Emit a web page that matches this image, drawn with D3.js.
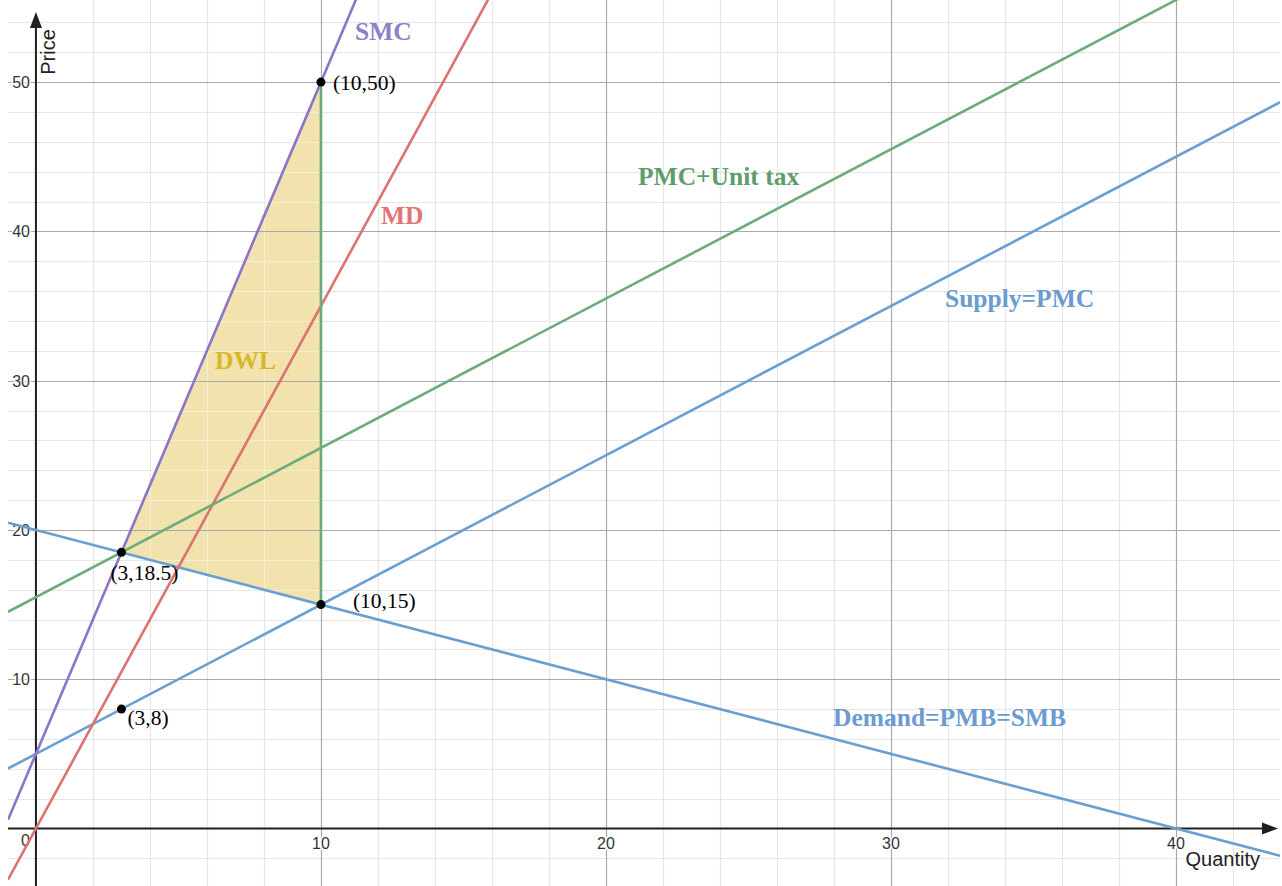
<!DOCTYPE html>
<html><head><meta charset="utf-8">
<script src="https://cdn.jsdelivr.net/npm/d3@7"></script>
<style>body{margin:0;background:#fff}</style></head>
<body><svg id="c" width="1282" height="886"></svg>
<script>
// ---- data ----
const curveNames = ["Demand=PMB=SMB", "Supply=PMC", "SMC", "MD", "PMC+Unit tax"];
const curveIntercepts = [20, 5, 5, 0, 15.5];
const curveSlopes = [-0.5, 1, 4.5, 3.5, 1];
const dwlXs = [3, 10, 10];
const dwlYs = [18.5, 50, 15];
const taxSegmentXs = [10, 10];
const taxSegmentYs = [15, 50];
const pointXs = [10, 3, 10, 3];
const pointYs = [50, 18.5, 15, 8];
const pointLabels = ["(10,50)", "(3,18.5)", "(10,15)", "(3,8)"];
const xTickValues = [10, 20, 30, 40];
const yTickValues = [10, 20, 30, 40, 50];
const xTitle = "Quantity", yTitle = "Price", areaLabel = "DWL";

// ---- styles / layout ----
const pLeft = 8, pRight = 1280, pTop = 0, pBottom = 886;
const xDom = [-0.98, 43.65], yDom = [-3.85, 55.5];
const curveColors = ["#6a9fd4", "#6a9fd4", "#8c74c8", "#dc7370", "#6cab7a"];
const labelColors = ["#6b9bd0", "#6b9bd0", "#8f7fc9", "#e07573", "#5e9c6d"];
const labelPos = [[833, 726], [945, 307], [355, 40], [381, 224], [638, 185]];
const pointLabelOffsets = [[12, 8], [-11, 28], [32, 3], [6, 16]];

const svg = d3.select("#c");
const x = d3.scaleLinear().domain(xDom).range([pLeft, pRight]);
const y = d3.scaleLinear().domain(yDom).range([pBottom, pTop]);
const dwlPath = d3.line().x((d, i) => x(dwlXs[i])).y((d, i) => y(dwlYs[i]))(dwlXs) + "Z";

const defs = svg.append("defs");
defs.append("clipPath").attr("id", "clip")
  .append("rect").attr("x", pLeft).attr("y", pTop).attr("width", pRight - pLeft).attr("height", pBottom - pTop);
defs.append("clipPath").attr("id", "dwlclip").append("path").attr("d", dwlPath);

const minorX = d3.range(Math.ceil(xDom[0] / 2) * 2, xDom[1], 2).filter(v => v % 10 !== 0);
const minorY = d3.range(Math.ceil(yDom[0] / 2) * 2, yDom[1], 2).filter(v => v % 10 !== 0);
const majorX = d3.range(10, xDom[1], 10);
const majorY = d3.range(10, yDom[1], 10);

function drawGrid(g, minorColor, majorColor) {
  g.selectAll(".mx").data(minorX).join("line").attr("x1", d => Math.round(x(d)) + 0.5).attr("x2", d => Math.round(x(d)) + 0.5)
    .attr("y1", pTop).attr("y2", pBottom).attr("stroke", minorColor).attr("stroke-width", 1.2);
  g.selectAll(".my").data(minorY).join("line").attr("y1", d => Math.round(y(d)) + 0.5).attr("y2", d => Math.round(y(d)) + 0.5)
    .attr("x1", pLeft).attr("x2", pRight).attr("stroke", minorColor).attr("stroke-width", 1.2);
  g.selectAll(".Mx").data(majorX).join("line").attr("x1", d => Math.round(x(d)) + 0.5).attr("x2", d => Math.round(x(d)) + 0.5)
    .attr("y1", pTop).attr("y2", pBottom).attr("stroke", majorColor).attr("stroke-width", 1.2);
  g.selectAll(".My").data(majorY).join("line").attr("y1", d => Math.round(y(d)) + 0.5).attr("y2", d => Math.round(y(d)) + 0.5)
    .attr("x1", pLeft).attr("x2", pRight).attr("stroke", majorColor).attr("stroke-width", 1.2);
}

// grid
drawGrid(svg.append("g").attr("clip-path", "url(#clip)"), "#e6e6e6", "#a9a9a9");

// DWL fill with lighter grid inside
svg.append("path").attr("d", dwlPath).attr("fill", "#f1e2ae");
drawGrid(svg.append("g").attr("clip-path", "url(#dwlclip)"), "#f6eed2", "#a9a9a9");

// axes
const axisColor = "#1f1f1f";
const ax = svg.append("g");
ax.append("line").attr("x1", pLeft).attr("x2", pRight - 10).attr("y1", y(0)).attr("y2", y(0)).attr("stroke", axisColor).attr("stroke-width", 2);
ax.append("line").attr("x1", x(0)).attr("x2", x(0)).attr("y1", pBottom).attr("y2", 22).attr("stroke", axisColor).attr("stroke-width", 2);
ax.append("path").attr("d", `M${pRight - 2},${y(0)} L${pRight - 18},${y(0) - 6} L${pRight - 18},${y(0) + 6} Z`).attr("fill", axisColor);
ax.append("path").attr("d", `M${x(0)},${12} L${x(0) - 6},${28} L${x(0) + 6},${28} Z`).attr("fill", axisColor);

// tick labels
const tickFont = "'Liberation Sans', Arial, sans-serif";
const tl = svg.append("g").attr("font-family", tickFont).attr("font-size", 16).attr("fill", "#333")
  .attr("stroke", "#fff").attr("stroke-width", 3).attr("paint-order", "stroke").attr("stroke-linejoin", "round");
tl.selectAll(".xt").data(xTickValues).join("text").attr("x", d => x(d)).attr("y", y(0) + 20)
  .attr("text-anchor", "middle").text(d => d);
tl.selectAll(".yt").data(yTickValues).join("text").attr("x", x(0) - 6).attr("y", d => y(d) + 6)
  .attr("text-anchor", "end").text(d => d);
tl.append("text").attr("x", x(0) - 6).attr("y", y(0) + 17).attr("text-anchor", "end").text(0);

// axis titles
svg.append("text").attr("x", 1260).attr("y", 866).attr("text-anchor", "end")
  .attr("font-family", tickFont).attr("font-size", 20).attr("fill", "#222").text(xTitle);
svg.append("text").attr("transform", "translate(55,52) rotate(-90)").attr("text-anchor", "middle")
  .attr("font-family", tickFont).attr("font-size", 20).attr("fill", "#222").text(yTitle);

// curves
const cg = svg.append("g").attr("clip-path", "url(#clip)");
curveNames.forEach((n, i) => {
  const pts = [xDom[0], xDom[1]].map(q => [q, curveIntercepts[i] + curveSlopes[i] * q]);
  cg.append("path").attr("d", d3.line().x(d => x(d[0])).y(d => y(d[1]))(pts))
    .attr("fill", "none").attr("stroke", curveColors[i]).attr("stroke-width", 2.6);
});
// tax segment
cg.append("line").attr("x1", x(taxSegmentXs[0])).attr("x2", x(taxSegmentXs[1]))
  .attr("y1", y(taxSegmentYs[0])).attr("y2", y(taxSegmentYs[1]))
  .attr("stroke", curveColors[4]).attr("stroke-width", 2.6);

// curve labels
const serif = "'Liberation Serif', 'Times New Roman', serif";
curveNames.forEach((n, i) => {
  svg.append("text").attr("x", labelPos[i][0]).attr("y", labelPos[i][1])
    .attr("font-family", serif).attr("font-weight", "bold").attr("font-size", 25.5)
    .attr("fill", labelColors[i]).text(n);
});
svg.append("text").attr("x", 215).attr("y", 369).attr("font-family", serif).attr("font-weight", "bold")
  .attr("font-size", 25.5).attr("fill", "#d6b82c").text(areaLabel);

// points
pointXs.forEach((px, i) => {
  svg.append("circle").attr("cx", x(px)).attr("cy", y(pointYs[i])).attr("r", 4.5).attr("fill", "#000");
  svg.append("text").attr("x", x(px) + pointLabelOffsets[i][0]).attr("y", y(pointYs[i]) + pointLabelOffsets[i][1])
    .attr("font-family", serif).attr("font-size", 21.5).attr("fill", "#000").text(pointLabels[i]);
});
</script></body></html>
